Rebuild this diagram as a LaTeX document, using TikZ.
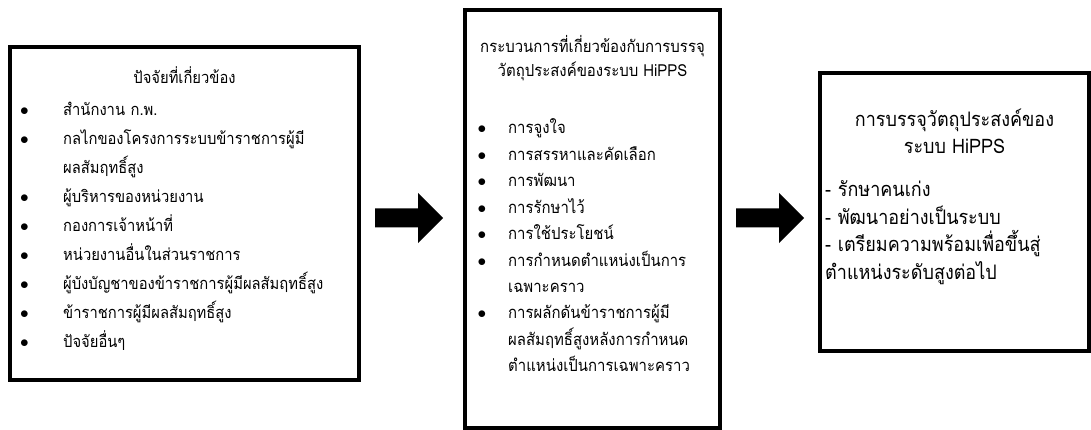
\documentclass[tikz,border=0pt]{standalone}
\usepackage{fontspec}
\newfontfamily\thaifont[Script=Thai, FakeStretch=0.9]{Loma}
\usetikzlibrary{positioning,calc}
\tikzset{
  box/.style={draw, line width=3.5pt, inner sep=0pt},
  item/.style={inner sep=0pt, text width=400pt, align=left},
  facfont/.style={font=\thaifont\fontsize{16.4pt}{19pt}\selectfont},
  procfont/.style={font=\thaifont\fontsize{16.6pt}{19pt}\selectfont},
  goalfont/.style={font=\thaifont\fontsize{20pt}{23pt}\selectfont},
  facitem/.style={item, facfont, text height=19pt, text depth=9.5pt},
  procitem/.style={item, procfont, text height=17pt, text depth=9pt},
  goalitem/.style={item, goalfont, text height=18pt, text depth=9pt},
  head/.style={inner sep=0pt, anchor=base},
}
\newcommand{\facdot}{\makebox[43pt][l]{$\bullet$}}
\newcommand{\procdot}{\makebox[30.5pt][l]{$\bullet$}}
% block arrow, tail at #1
\newcommand{\fatarrow}[1]{\fill #1 ++(0,-9.5) -- ++(43,0) -- ++(0,-15.5) -- ++(25,25)
  -- ++(-25,25) -- ++(0,-15.5) -- ++(-43,0) -- cycle;}

\begin{document}
\begin{tikzpicture}[
    x=1pt, y=-1pt, % pixel coordinates, y downwards
    node distance=0pt,
  ]
    \useasboundingbox (0,0) rectangle (1091,430);

    % the three boxes
    \node[box, minimum width=349pt, minimum height=333pt] (fac)  at (184.5,213.5) {};
    \node[box, minimum width=255pt, minimum height=418pt] (proc) at (592.5,219) {};
    \node[box, minimum width=269pt, minimum height=278pt] (goal) at (954.5,212) {};

    % left box
    \node[head, facfont] (fh) at (184.5,84) {ปัจจัยที่เกี่ยวข้อง};
    \node[facitem, anchor=base west] (f1) at (20,116) {\facdot สำนักงาน ก.พ.};
    \node[facitem, below=of f1] (f2) {\facdot กลไกของโครงการระบบข้าราชการผู้มี};
    \node[facitem, below=of f2] (f3) {\hspace*{43pt}ผลสัมฤทธิ์สูง};
    \node[facitem, below=of f3] (f4) {\facdot ผู้บริหารของหน่วยงาน};
    \node[facitem, below=of f4] (f5) {\facdot กองการเจ้าหน้าที่};
    \node[facitem, below=of f5] (f6) {\facdot หน่วยงานอื่นในส่วนราชการ};
    \node[facitem, below=of f6] (f7) {\facdot ผู้บังบัญชาของข้าราชการผู้มีผลสัมฤทธิ์สูง};
    \node[facitem, below=of f7] (f8) {\facdot ข้าราชการผู้มีผลสัมฤทธิ์สูง};
    \node[facitem, below=of f8] (f9) {\facdot ปัจจัยอื่นๆ};

    % middle box
    \node[head, procfont] (ph1) at (592.5,53) {กระบวนการที่เกี่ยวข้องกับการบรรจุ};
    \node[head, procfont] (ph2) at (592.5,77) {วัตถุประสงค์ของระบบ HiPPS};
    \node[procitem, anchor=base west] (p1) at (477.5,134) {\procdot การจูงใจ};
    \node[procitem, below=of p1] (p2) {\procdot การสรรหาและคัดเลือก};
    \node[procitem, below=of p2] (p3) {\procdot การพัฒนา};
    \node[procitem, below=of p3] (p4) {\procdot การรักษาไว้};
    \node[procitem, below=of p4] (p5) {\procdot การใช้ประโยชน์};
    \node[procitem, below=of p5] (p6) {\procdot การกำหนดตำแหน่งเป็นการ};
    \node[procitem, below=of p6] (p7) {\hspace*{30.5pt}เฉพาะคราว};
    \node[procitem, below=of p7] (p8) {\procdot การผลักดันข้าราชการผู้มี};
    \node[procitem, below=of p8] (p9) {\hspace*{30.5pt}ผลสัมฤทธิ์สูงหลังการกำหนด};
    \node[procitem, below=of p9] (p10) {\hspace*{30.5pt}ตำแหน่งเป็นการเฉพาะคราว};

    % right box
    \node[head, goalfont] (gh1) at (954.5,127) {การบรรจุวัตถุประสงค์ของ};
    \node[head, goalfont] (gh2) at (954.5,154) {ระบบ HiPPS};
    \node[goalitem, anchor=base west] (g1) at (825,197) {- รักษาคนเก่ง};
    \node[goalitem, below=of g1] (g2) {- พัฒนาอย่างเป็นระบบ};
    \node[goalitem, below=of g2] (g3) {- เตรียมความพร้อมเพื่อขึ้นสู่};
    \node[goalitem, below=of g3] (g4) {ตำแหน่งระดับสูงต่อไป};

    % arrows between the boxes
    \coordinate (a1) at (375,218);
    \coordinate (a2) at (736,218);
    \fatarrow{(a1)}
    \fatarrow{(a2)}
\end{tikzpicture}
\end{document}
